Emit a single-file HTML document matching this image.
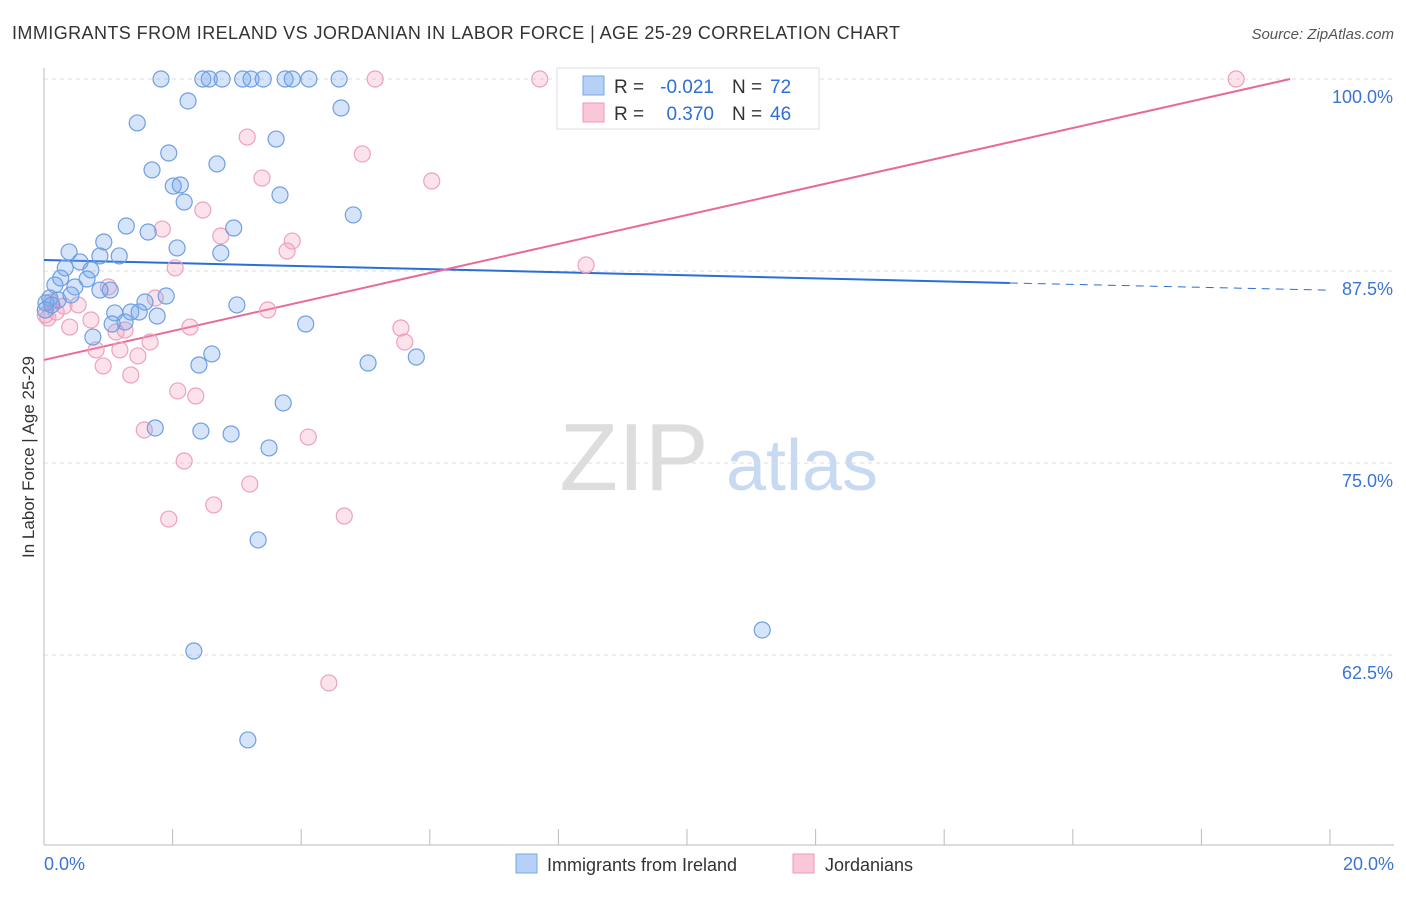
<!DOCTYPE html>
<html><head><meta charset="utf-8"><style>
body{margin:0;background:#fff;font-family:"Liberation Sans",sans-serif;}
svg text{font-family:"Liberation Sans",sans-serif;}
</style></head><body>
<svg id="chart" width="1406" height="892" xmlns="http://www.w3.org/2000/svg">
<text x="12" y="39" font-size="18" fill="#333" textLength="888">IMMIGRANTS FROM IRELAND VS JORDANIAN IN LABOR FORCE | AGE 25-29 CORRELATION CHART</text>
<text x="1394" y="39" font-size="15" fill="#555" text-anchor="end" font-style="italic">Source: ZipAtlas.com</text>
<text transform="translate(34,457) rotate(-90)" font-size="17" fill="#333" text-anchor="middle">In Labor Force | Age 25-29</text>
<g>
<text x="634" y="490" font-size="96" fill="#ddd" text-anchor="middle" font-family="Liberation Serif">ZIP</text>
<text x="802" y="490" font-size="72" fill="#c8daf2" text-anchor="middle">atlas</text>
</g>
<g id="grid"></g>
<g id="axes"></g>
<g id="trends"></g>
<g id="points"></g>
<g>
<rect x="557" y="68" width="262" height="61" fill="#fff" stroke="#ddd"/>
<rect x="583" y="76" width="21" height="19" fill="#b7d0f5" stroke="#7aa6e6"/>
<text x="614" y="93" font-size="19" fill="#333">R =</text>
<text x="714" y="93" font-size="19" fill="#2c6fd6" text-anchor="end">-0.021</text>
<text x="732" y="93" font-size="19" fill="#333">N =</text>
<text x="770" y="93" font-size="19" fill="#2c6fd6">72</text>
<rect x="583" y="103" width="21" height="19" fill="#f9c7d7" stroke="#ee9ab6"/>
<text x="614" y="120" font-size="19" fill="#333">R =</text>
<text x="714" y="120" font-size="19" fill="#2c6fd6" text-anchor="end">0.370</text>
<text x="732" y="120" font-size="19" fill="#333">N =</text>
<text x="770" y="120" font-size="19" fill="#2c6fd6">46</text>
</g>
<g>
<rect x="516" y="854" width="21" height="19" fill="#b7d0f5" stroke="#7aa6e6"/>
<text x="547" y="871" font-size="18" fill="#333">Immigrants from Ireland</text>
<rect x="793" y="854" width="21" height="19" fill="#f9c7d7" stroke="#ee9ab6"/>
<text x="825" y="871" font-size="18" fill="#333">Jordanians</text>
</g>
</svg>
<script>
const blueX=[1.82,2.47,2.57,2.77,3.09,3.22,3.41,3.75,3.86,4.12,4.59,9.84,2.24,4.62,1.45,3.61,1.94,2.69,1.68,2.01,2.12,2.18,3.67,4.81,1.28,2.95,1.62,2.07,0.93,0.39,2.75,1.17,0.87,0.56,0.33,0.73,0.26,0.67,0.48,0.17,0.09,0.22,0.03,1.03,0.87,0.42,1.90,1.57,3.00,1.10,1.35,1.48,1.76,1.06,1.26,4.07,0.76,2.61,2.41,5.04,5.79,3.72,1.73,2.44,2.91,3.50,3.33,11.17,2.33,3.17,0.02,0.12];
const blueY=[100,100,100,100,100,100,100,100,100,100,100,100,98.57,98.11,97.14,96.09,95.18,94.47,94.08,93.03,93.10,91.99,92.45,91.15,90.43,90.30,90.04,89.00,89.39,88.74,88.67,88.48,88.48,88.09,87.70,87.57,87.04,86.98,86.46,86.59,85.74,85.61,85.42,86.26,86.26,85.94,85.87,85.48,85.29,84.77,84.83,84.83,84.57,84.05,84.18,84.05,83.20,82.10,81.38,81.51,81.90,78.91,77.28,77.08,76.89,75.98,69.99,64.13,62.76,56.97,84.96,85.29];
const pinkX=[5.15,7.71,18.54,3.16,4.95,3.39,6.03,2.47,1.84,2.75,3.86,3.78,2.04,8.43,1.00,1.73,0.11,0.31,0.53,0.73,0.40,3.48,2.27,5.55,1.12,1.26,5.61,1.65,0.81,1.18,1.46,0.92,1.35,2.08,2.36,1.56,4.11,2.18,3.20,2.64,4.67,1.94,4.43,0.06,0.19,0.02];
const pinkY=[100,100,100,96.22,95.12,93.55,93.36,91.47,90.23,89.78,89.45,88.80,87.70,87.89,86.46,85.74,85.48,85.22,85.29,84.31,83.85,84.96,83.85,83.79,83.53,83.66,82.88,82.88,82.36,82.36,81.97,81.32,80.73,79.69,79.36,77.15,76.69,75.13,73.63,72.27,71.55,71.35,60.68,84.44,84.83,84.64];
const blueTrendX=[0,15.02,20];
const blueTrendY=[88.22,86.72,86.25];
const pinkTrendX=[0,19.38];
const pinkTrendY=[81.71,100];
const yTicks=[100,87.5,75,62.5];
const yTickLabels=["100.0%","87.5%","75.0%","62.5%"];
const xTicks=[0,2,4,6,8,10,12,14,16,18,20];

const NS="http://www.w3.org/2000/svg";
const sx=v=>44+v*64.3;
const sy=v=>79+(100-v)*15.36;
function mk(p,t,a){const e=document.createElementNS(NS,t);for(const k in a)e.setAttribute(k,a[k]);p.appendChild(e);return e;}
const grid=document.getElementById('grid'),axes=document.getElementById('axes'),trends=document.getElementById('trends'),pts=document.getElementById('points');
yTicks.forEach((v,i)=>{
 const l=mk(grid,'line',{x1:44,x2:1394,y1:sy(v),y2:sy(v),stroke:'#ddd','stroke-dasharray':'4,4'});
 
 
 const t=mk(axes,'text',{x:1393,y:sy(v)+24,'font-size':18,fill:'#3a74d4','text-anchor':'end'});
 t.textContent=yTickLabels[i];
 
 
});
const ya=mk(axes,'line',{x1:44,x2:44,y1:68,y2:845,stroke:'#bbb'});


const xa=mk(axes,'line',{x1:44,x2:1394,y1:845,y2:845,stroke:'#bbb'});


xTicks.forEach(v=>{
 const l=mk(axes,'line',{x1:sx(v),x2:sx(v),y1:829,y2:845,stroke:'#bbb'});
 
 
});
const x0=mk(axes,'text',{x:44,y:870,'font-size':18,fill:'#3a74d4'});x0.textContent=xTicks[0].toFixed(1)+'%';


const x1=mk(axes,'text',{x:1394,y:870,'font-size':18,fill:'#3a74d4','text-anchor':'end'});x1.textContent=xTicks[xTicks.length-1].toFixed(1)+'%';


function dot(x,y,fill,stroke,name){const c=mk(pts,'circle',{cx:sx(x),cy:sy(y),r:8,fill:fill,stroke:stroke,'stroke-width':1.2});
 
 }
pinkX.forEach((x,i)=>dot(x,pinkY[i],'rgba(244,160,190,0.3)','#eca2bc','jordanian-point'));
blueX.forEach((x,i)=>dot(x,blueY[i],'rgba(120,165,235,0.3)','#6e9fe4','ireland-point'));
const bt=mk(trends,'line',{x1:sx(blueTrendX[0]),y1:sy(blueTrendY[0]),x2:sx(blueTrendX[1]),y2:sy(blueTrendY[1]),stroke:'#2a6ed6','stroke-width':2});


const bd=mk(trends,'line',{x1:sx(blueTrendX[1]),y1:sy(blueTrendY[1]),x2:sx(blueTrendX[2]),y2:sy(blueTrendY[2]),stroke:'#2a6ed6','stroke-width':1,'stroke-dasharray':'8,6'});


const pt=mk(trends,'line',{x1:sx(pinkTrendX[0]),y1:sy(pinkTrendY[0]),x2:sx(pinkTrendX[1]),y2:sy(pinkTrendY[1]),stroke:'#e8699a','stroke-width':2});


</script>
</body></html>
